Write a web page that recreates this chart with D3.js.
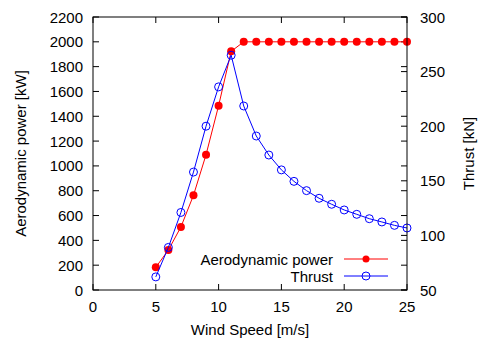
<!DOCTYPE html>
<html>
<head>
<meta charset="utf-8">
<script src="https://cdn.jsdelivr.net/npm/d3@7"></script>
<style>
  body { margin: 0; background: #fff; }
  text { font-family: "Liberation Sans", Arial, sans-serif; font-size: 15px; fill: #000; }
</style>
</head>
<body>
<div id="chart"></div>
<script>
// Wind turbine power and thrust curves vs wind speed

const windSpeed = [5, 6, 7, 8, 9, 10, 11, 12, 13, 14, 15, 16, 17, 18, 19, 20, 21, 22, 23, 24, 25];
const powerKW = [183, 322, 508, 763, 1090, 1485, 1923, 2000, 2000, 2000, 2000, 2000, 2000, 2000, 2000, 2000, 2000, 2000, 2000, 2000, 2000];
const thrustKN = [62, 89, 121, 158, 200, 236, 265, 218.5, 191, 173.6, 160, 149.5, 141, 134, 128.5, 123.3, 119.3, 115.3, 112.3, 109.2, 106.8];

const xTicks = [0, 5, 10, 15, 20, 25];
const yTicks = d3.range(0, 2201, 200);
const y2Ticks = [50, 100, 150, 200, 250, 300];

const W = 480, H = 340;
const plot = { left: 93, right: 407, top: 17, bottom: 290 };
const tick = 6;

const svg = d3.select('#chart').append('svg')
  .attr('width', W)
  .attr('height', H);

const x = d3.scaleLinear().domain([0, 25]).range([plot.left, plot.right]);
const y = d3.scaleLinear().domain([0, 2200]).range([plot.bottom, plot.top]);
const y2 = d3.scaleLinear().domain([50, 300]).range([plot.bottom, plot.top]);

// Ticks (inward, mirrored like gnuplot)
const ticks = svg.append('g').attr('stroke', '#000').attr('stroke-width', 1);
xTicks.forEach(t => {
  ticks.append('line').attr('x1', x(t)).attr('x2', x(t)).attr('y1', plot.bottom).attr('y2', plot.bottom - tick);
  ticks.append('line').attr('x1', x(t)).attr('x2', x(t)).attr('y1', plot.top).attr('y2', plot.top + tick);
});
yTicks.forEach(t => {
  ticks.append('line').attr('x1', plot.left).attr('x2', plot.left + tick).attr('y1', y(t)).attr('y2', y(t));
  ticks.append('line').attr('x1', plot.right).attr('x2', plot.right - tick).attr('y1', y(t)).attr('y2', y(t));
});
y2Ticks.forEach(t => {
  ticks.append('line').attr('x1', plot.right).attr('x2', plot.right - tick).attr('y1', y2(t)).attr('y2', y2(t));
});

// Tick labels
svg.append('g').selectAll('text').data(xTicks).join('text')
  .attr('x', d => x(d)).attr('y', plot.bottom + 22)
  .attr('text-anchor', 'middle')
  .text(d => d);

svg.append('g').selectAll('text').data(yTicks).join('text')
  .attr('x', plot.left - 10).attr('y', d => y(d) + 5.5)
  .attr('text-anchor', 'end')
  .text(d => d);

svg.append('g').selectAll('text').data(y2Ticks).join('text')
  .attr('x', plot.right + 13).attr('y', d => y2(d) + 5.5)
  .attr('text-anchor', 'start')
  .text(d => d);

// Axis titles
svg.append('text')
  .attr('x', (plot.left + plot.right) / 2).attr('y', 335)
  .attr('text-anchor', 'middle')
  .text('Wind Speed [m/s]');

svg.append('text')
  .attr('transform', `translate(26,${(plot.top + plot.bottom) / 2}) rotate(-90)`)
  .attr('text-anchor', 'middle')
  .text('Aerodynamic power [kW]');

svg.append('text')
  .attr('transform', `translate(474,${(plot.top + plot.bottom) / 2}) rotate(-90)`)
  .attr('text-anchor', 'middle')
  .text('Thrust [kN]');

// Series
const powerData = windSpeed.map((w, i) => ({ w, v: powerKW[i] }));
const thrustData = windSpeed.map((w, i) => ({ w, v: thrustKN[i] }));

svg.append('path')
  .datum(powerData)
  .attr('fill', 'none')
  .attr('stroke', '#ff0000')
  .attr('stroke-width', 1)
  .attr('d', d3.line().x(d => x(d.w)).y(d => y(d.v)));

svg.append('g').selectAll('circle').data(powerData).join('circle')
  .attr('cx', d => x(d.w)).attr('cy', d => y(d.v))
  .attr('r', 4)
  .attr('fill', '#ff0000');

svg.append('path')
  .datum(thrustData)
  .attr('fill', 'none')
  .attr('stroke', '#0000ff')
  .attr('stroke-width', 1)
  .attr('d', d3.line().x(d => x(d.w)).y(d => y2(d.v)));

svg.append('g').selectAll('circle').data(thrustData).join('circle')
  .attr('cx', d => x(d.w)).attr('cy', d => y2(d.v))
  .attr('r', 4)
  .attr('fill', 'none')
  .attr('stroke', '#0000ff')
  .attr('stroke-width', 1);

// Legend
const legend = svg.append('g');
const legendItems = [
  { label: 'Aerodynamic power', color: '#ff0000', filled: true, yy: 259 },
  { label: 'Thrust', color: '#0000ff', filled: false, yy: 276 }
];
legendItems.forEach(it => {
  legend.append('text')
    .attr('x', 333).attr('y', it.yy + 5.5)
    .attr('text-anchor', 'end')
    .text(it.label);
  legend.append('line')
    .attr('x1', 344).attr('x2', 388).attr('y1', it.yy).attr('y2', it.yy)
    .attr('stroke', it.color).attr('stroke-width', 1);
  legend.append('circle')
    .attr('cx', 366).attr('cy', it.yy).attr('r', it.filled ? 3.5 : 4)
    .attr('fill', it.filled ? it.color : 'none')
    .attr('stroke', it.filled ? 'none' : it.color);
});

// Border
svg.append('rect')
  .attr('x', plot.left).attr('y', plot.top)
  .attr('width', plot.right - plot.left).attr('height', plot.bottom - plot.top)
  .attr('fill', 'none')
  .attr('stroke', '#000')
  .attr('stroke-width', 1);
</script>
</body>
</html>
